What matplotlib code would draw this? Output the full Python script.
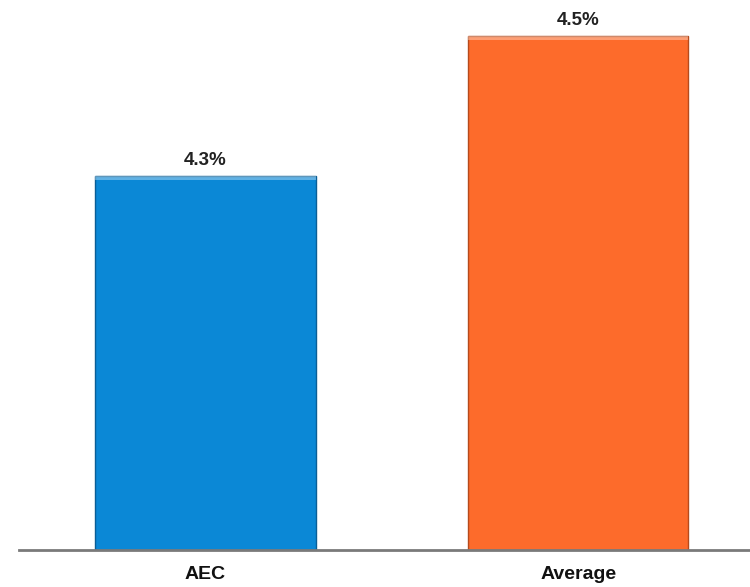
import matplotlib.pyplot as plt

# bar values (percent)
categories = ['AEC', 'Average']
values = [4.3, 4.5]
colors = ['#0B88D6', '#FD6B2B']
edges = ['#0A5E96', '#B54A1C']

plt.rcParams['font.family'] = ['Liberation Sans', 'DejaVu Sans']

fig = plt.figure(figsize=(7.5, 5.87), dpi=100)
ax = fig.add_axes([19/750, 37/587, 1 - 19/750, 1 - 37/587])

x = list(range(len(categories)))
ax.bar(x, values, width=0.59, color=colors, edgecolor=edges, linewidth=1.0, zorder=2)
# light strip on top of each bar
for xi, v, c in zip(x, values, colors):
    ax.bar(xi, 0.005, bottom=v - 0.005, width=0.59, color='white', alpha=0.35,
           linewidth=0, zorder=3)
    ax.text(xi, v + 0.011, '%.1f%%' % v, ha='center', va='bottom',
            fontsize=13.5, fontweight='bold', color='#222222')

ax.set_ylim(3.766, 4.552)
ax.set_xlim(-0.5, 1.46)
ax.set_xticks(x)
ax.set_xticklabels(categories, fontsize=14, fontweight='bold', color='#111111')
ax.tick_params(axis='x', length=0, pad=11.5)
ax.set_yticks([])
for s in ['top', 'right', 'left']:
    ax.spines[s].set_visible(False)
ax.spines['bottom'].set_color('#7a7a7a')
ax.spines['bottom'].set_linewidth(2)
ax.spines['bottom'].set_zorder(4)

fig.savefig('out.png', dpi=100)
